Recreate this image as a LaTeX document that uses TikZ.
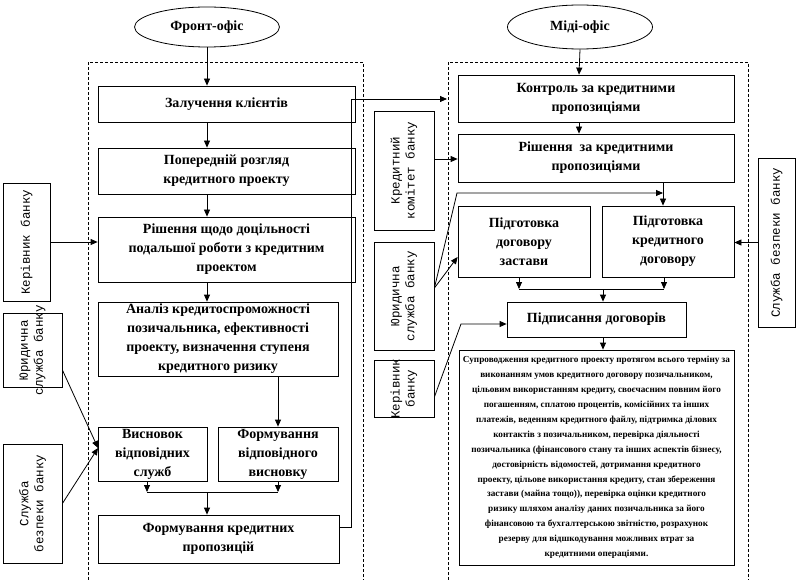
\documentclass[tikz,border=0pt]{standalone}
\usepackage{fontspec}
\setmainfont{Liberation Serif}
\newfontfamily\sidefont{Liberation Mono}
\usetikzlibrary{arrows.meta,shapes.geometric,calc}
\newcommand\mbf{\fontsize{14}{19}\selectfont\bfseries}
\newcommand\sbf{\fontsize{9.2}{14.9}\selectfont\bfseries}
\newcommand\sdf{\sidefont\fontsize{12.5}{15}\selectfont}
\begin{document}
\begin{tikzpicture}[x=1pt,y=-1pt,
  box/.style={draw,line width=0.8pt,inner sep=0pt,align=center,font=\mbf},
  sidebox/.style={draw,line width=0.8pt,inner sep=0pt},
  sidetxt/.style={rotate=90,align=center,font=\sdf,inner sep=0pt},
  oval/.style={draw,ellipse,line width=0.8pt,inner sep=0pt,font=\mbf},
  arr/.style={line width=0.8pt,-{Triangle[length=7pt,width=6pt]}},
  ln/.style={line width=0.8pt},
  dbox/.style={line width=0.6pt,dash pattern=on 3pt off 2pt}]
\useasboundingbox (0,0) rectangle (798,580);
\fill[white] (0,0) rectangle (798,580);

% dashed frames
\draw[dbox] (88,600) -- (88,62) -- (363,62) -- (363,600);
\draw[dbox] (448,600) -- (448,62) -- (748,62) -- (748,600);

% ---------- front office ----------
\node[oval,minimum width=145pt,minimum height=40pt] (fo) at (207,27) {Фронт-офіс};
\node[box,minimum width=257pt,minimum height=36pt] (b1) at (226.5,104) {Залучення клієнтів};
\node[box,minimum width=257pt,minimum height=46pt] (b2) at (226.5,171) {Попередній розгляд\\кредитного проекту};
\node[box,minimum width=257pt,minimum height=65pt] (b3) at (226.5,249.5) {Рішення щодо доцільності\\подальшої роботи з кредитним\\проектом};
\node[box,minimum width=240pt,minimum height=74pt] (b4) at (218,339) {Аналіз кредитоспроможності\\позичальника, ефективності\\проекту, визначення ступеня\\кредитного ризику};
\node[box,minimum width=109pt,minimum height=54pt] (b5) at (152.5,454) {Висновок\\відповідних\\служб};
\node[box,minimum width=120pt,minimum height=54pt] (b6) at (278,454) {Формування\\відповідного\\висновку};
\node[box,minimum width=241pt,minimum height=48pt] (b7) at (218.5,539) {Формування кредитних\\пропозицій};

\coordinate (fx) at (207,0);
\draw[arr] (fo.south) -- (fo.south |- b1.north);
\draw[arr] (fx |- b1.south) -- (fx |- b2.north);
\draw[arr] (fx |- b2.south) -- (fx |- b3.north);
\draw[arr] (fx |- b3.south) -- (fx |- b4.north);
\draw[arr] (b6.north |- b4.south) -- (b6.north);
\coordinate (lbus) at (207,492);
\coordinate (l5) at (147,481);
\draw[arr] (l5) -- (l5 |- lbus);
\draw[arr] (b6.south) -- (b6.south |- lbus);
\draw[ln] (l5 |- lbus) -- (b6.south |- lbus);
\draw[arr] (lbus) -- (lbus |- b7.north);

% feedback to middle office
\coordinate (fbtop) at (351,99);
\coordinate (fbend) at (447,99);
\draw[arr] ([yshift=12pt]b7.east) -| (fbtop) -- (fbend);

% left side boxes
\node[sidebox,minimum width=47pt,minimum height=118pt] (kb) at (26.5,242) {};
\node[sidetxt] at (kb.center) {Керівник банку};
\node[sidebox,minimum width=59pt,minimum height=74pt] (yl) at (32.5,350) {};
\node[sidetxt] at (yl.center) {Юридична\\служба банку};
\node[sidebox,minimum width=59pt,minimum height=119pt] (sl) at (32.5,503.5) {};
\node[sidetxt] at (sl.center) {Служба\\безпеки банку};

\draw[arr] (kb.east) -- (kb.east -| b3.west);
\coordinate (b5in) at (98,448);
\draw[arr] ([yshift=-20pt]yl.east) -- (b5in);
\draw[arr] (sl.east) -- (b5in);

% ---------- middle office ----------
\node[oval,minimum width=145pt,minimum height=44pt] (mo) at (580,27) {Міді-офіс};
\node[box,minimum width=276pt,minimum height=47pt] (c1) at (596,98.5) {Контроль за кредитними\\пропозиціями};
\node[box,minimum width=276pt,minimum height=48pt] (c2) at (596,158) {Рішення \ за кредитними\\пропозиціями};
\node[box,minimum width=132pt,minimum height=71pt] (p1) at (524,241.5) {Підготовка\\договору\\застави};
\node[box,minimum width=132pt,minimum height=71pt] (p2) at (668,241.5) {Підготовка\\кредитного\\договору};
\node[box,minimum width=179pt,minimum height=35pt] (pd) at (596.5,319.5) {Підписання договорів};
\node[box,minimum width=275pt,minimum height=215pt,font=\sbf] (bg) at (596.5,457.5) {%
Супроводження кредитного проекту протягом всього терміну за\\
виконанням умов кредитного договору позичальником,\\
цільовим використанням кредиту, своєчасним повним його\\
погашенням, сплатою процентів, комісійних та інших\\
платежів, веденням кредитного файлу, підтримка ділових\\
контактів з позичальником, перевірка діяльності\\
позичальника (фінансового стану та інших аспектів бізнесу,\\
достовірність відомостей, дотримання кредитного\\
проекту, цільове використання кредиту, стан збереження\\
застави (майна тощо)), перевірка оцінки кредитного\\
ризику шляхом аналізу даних позичальника за його\\
фінансовою та бухгалтерською звітністю, розрахунок\\
резерву для відшкодування можливих втрат за\\
кредитними операціями.};

\node[sidebox,minimum width=60pt,minimum height=119pt] (kk) at (404,170.5) {};
\node[sidetxt] at (kk.center) {Кредитний\\комітет банку};
\node[sidebox,minimum width=60pt,minimum height=108pt] (yr) at (404,296) {};
\node[sidetxt] at (yr.center) {Юридична\\служба банку};
\node[sidebox,minimum width=60pt,minimum height=57pt] (kr) at (404,388.5) {};
\node[sidetxt] at (kr.center) {Керівник\\банку};
\node[sidebox,minimum width=37pt,minimum height=169pt] (sr) at (776.5,242.5) {};
\node[sidetxt] at (sr.center) {Служба безпеки банку};

\coordinate (mx) at (579,0);
\draw[arr] (mo.south) -- (mx |- c1.north);
\draw[arr] (mx |- c1.south) -- (mx |- c2.north);
\draw[arr] ([yshift=11.5pt]kk.east) -- ([yshift=11.5pt]kk.east -| c2.west);
\coordinate (vx) at (663,0);
\draw[arr] (vx |- c2.south) -- (vx |- p2.north);
\coordinate (yj) at (457,193);
\draw[arr] ([yshift=8pt]yr.east) -- (yj) -- (yj -| vx);
\draw[arr] ([yshift=8pt]yr.east) -- ([yshift=-15.5pt]p1.west);
\draw[arr] (sr.west) -- (sr.west -| p2.east);
\coordinate (rbus) at (603,289);
\coordinate (r1) at (519,277);
\coordinate (r2) at (664,277);
\draw[arr] (r1) -- (r1 |- rbus);
\draw[arr] (r2) -- (r2 |- rbus);
\draw[ln] (r1 |- rbus) -- (r2 |- rbus);
\draw[arr] (rbus) -- (rbus |- pd.north);
\coordinate (kj) at (461,324);
\draw[arr] ([yshift=-8.5pt]kr.east) -- (kj) -- (kj -| pd.west);
\draw[arr] (rbus |- pd.south) -- (rbus |- bg.north);
\end{tikzpicture}
\end{document}
